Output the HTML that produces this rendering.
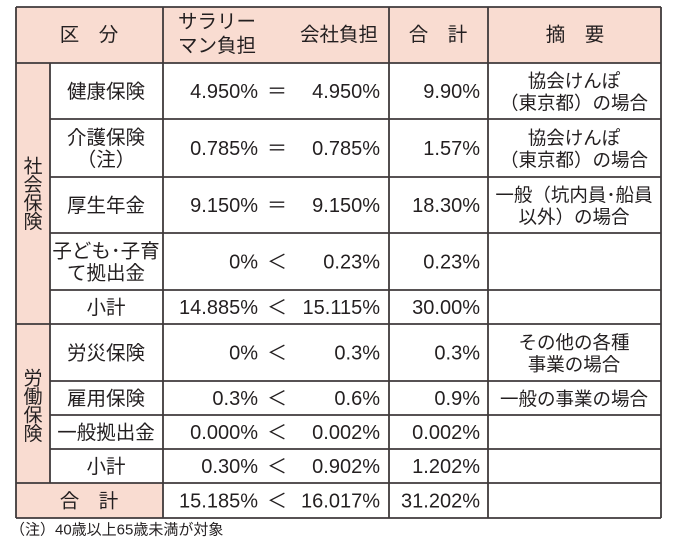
<!DOCTYPE html>
<html><head><meta charset="utf-8">
<style>
html,body{margin:0;padding:0;background:#fff;}
svg{display:block;font-family:"Liberation Sans","Noto Sans CJK JP",sans-serif;}
text{fill:#231f20;font-size:19.5px;}
</style></head>
<body>
<svg id="t" width="680" height="543" viewBox="0 0 680 543">
<g id="fills"></g><g id="lines"></g><g id="txt"></g>
</svg>
<script>
const rowNames=[["健康保険"],["介護保険","（注）"],["厚生年金"],["子ども･子育","て拠出金"],["小計"],["労災保険"],["雇用保険"],["一般拠出金"],["小計"],["合　計"]];
const salary=["4.950%","0.785%","9.150%","0%","14.885%","0%","0.3%","0.000%","0.30%","15.185%"];
const signs=["＝","＝","＝","＜","＜","＜","＜","＜","＜","＜"];
const company=["4.950%","0.785%","9.150%","0.23%","15.115%","0.3%","0.6%","0.002%","0.902%","16.017%"];
const totals=["9.90%","1.57%","18.30%","0.23%","30.00%","0.3%","0.9%","0.002%","1.202%","31.202%"];
const notes=[["協会けんぽ","（東京都）の場合"],["協会けんぽ","（東京都）の場合"],["一般（坑内員･船員","以外）の場合"],[],[],["その他の各種","事業の場合"],["一般の事業の場合"],[],[],[]];
const rowEdges=[63,119,177,233,290,324,381,415,449,483,518];
const NS="http://www.w3.org/2000/svg";
const F=document.getElementById('fills'),L=document.getElementById('lines'),T=document.getElementById('txt');
function mk(p,tag,a){const e=document.createElementNS(NS,tag);for(const k in a)e.setAttribute(k,a[k]);p.appendChild(e);return e;}
function txt(x,y,s,anchor,name,fs){const e=mk(T,'text',{x:x,y:y,'text-anchor':anchor,'dominant-baseline':'central'});e.textContent=s;
if(fs)e.setAttribute('style','font-size:'+fs+'px');


return e;}
const pink="#f9dcd1",lc="#3f3a3b";
let r=mk(F,'rect',{x:16,y:7,width:645,height:56,fill:pink});


r=mk(F,'rect',{x:16,y:63,width:34,height:420,fill:pink});


r=mk(F,'rect',{x:16,y:483,width:147,height:35,fill:pink});


function ln(x1,y1,x2,y2,name){const e=mk(L,'line',{x1:x1,y1:y1,x2:x2,y2:y2,stroke:lc,'stroke-width':1.8});

}
ln(16,7,661,7,'border-top');ln(16,518,661,518,'border-bottom');
ln(16,7,16,518,'border-left');ln(661,7,661,518,'border-right');
ln(50,63,50,483,'group-divider');ln(163,7,163,518,'name-divider');
ln(389,7,389,518,'total-divider');ln(488,7,488,518,'note-divider');
ln(16,63,661,63,'header-divider');
for(let i=0;i<rowEdges.length-1;i++){
 const y=rowEdges[i+1];if(i===rowNames.length-1)continue;
 const x0=(i===4||i===8)?16:50;
 ln(x0,y,661,y,'row-divider');
}
txt(89,35,"区　分","middle",'header-category');
txt(217,22,"サラリー","middle",'header-salary-line1');
txt(217,46,"マン負担","middle",'header-salary-line2');
txt(339,35,"会社負担","middle",'header-company');
txt(438,35,"合　計","middle",'header-total');
txt(575,35,"摘　要","middle",'header-note');
"社会保険".split("").forEach((c,i)=>txt(33,167+i*18.5,c,"middle",'group-social-insurance',19));
"労働保険".split("").forEach((c,i)=>txt(33,379+i*18.5,c,"middle",'group-labor-insurance',19));
for(let i=0;i<rowNames.length;i++){
 const cy=(rowEdges[i]+rowEdges[i+1])/2+1;
 const nx=(i===9)?89:106;
 const nm=rowNames[i];
 nm.forEach((s,k)=>txt(nx,cy+(k-(nm.length-1)/2)*22,s,"middle",'row-name'));
 txt(258,cy,salary[i],"end",'salary-value',20);
 txt(277,cy,signs[i],"middle",'comparison-sign',20);
 txt(380,cy,company[i],"end",'company-value',20);
 txt(480,cy,totals[i],"end",'total-value',20);
 const n=notes[i];
 n.forEach((s,k)=>txt(574,cy+(k-(n.length-1)/2)*22,s,"middle",'note-text',18.5));
}
txt(10,530,"（注）40歳以上65歳未満が対象","start",'footnote',15);
</script>
</body></html>
